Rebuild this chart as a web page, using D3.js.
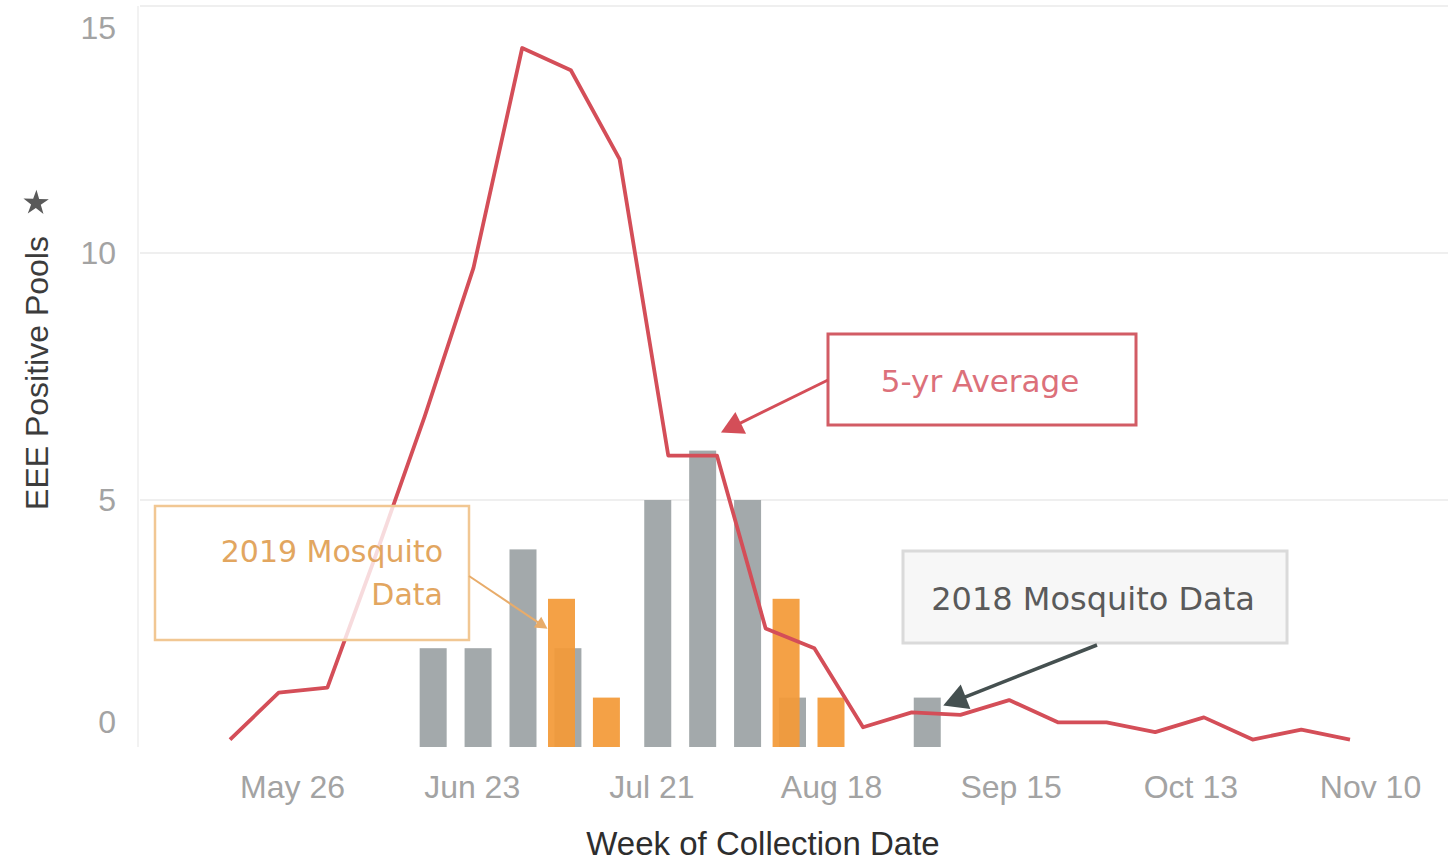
<!DOCTYPE html>
<html>
<head>
<meta charset="utf-8">
<script src="https://cdn.jsdelivr.net/npm/d3@7"></script>
<style>
  body { margin: 0; background: #fff; }
  text { font-family: "Liberation Sans", Arial, sans-serif; }
  .note { font-family: "DejaVu Sans", "Liberation Sans", sans-serif; }
</style>
</head>
<body>
<svg id="chart"></svg>
<script>
// 2018 data (Sunday week starts, 2018 calendar) – shown on the 2019 axis
var weeks2018 = ['2018-06-17', '2018-06-24', '2018-07-01', '2018-07-08', '2018-07-22',
  '2018-07-29', '2018-08-05', '2018-08-12', '2018-09-02'];
var pools2018 = [2, 2, 4, 2, 5, 6, 5, 1, 1];

// 2019 data
var weeks2019 = ['2019-07-07', '2019-07-14', '2019-08-11', '2019-08-18'];
var pools2019 = [3, 1, 3, 1];

// 5-yr average by week number
var avgWeekNums = d3.range(20, 44);
var avgPools = [0.15, 1.1, 1.2, 3.9, 6.7, 9.7, 14.15, 13.7, 11.9, 5.9, 5.9, 2.4,
  2.0, 0.4, 0.7, 0.65, 0.95, 0.5, 0.5, 0.3, 0.6, 0.15, 0.35, 0.15];

var xTickDates = ['2019-05-26', '2019-06-23', '2019-07-21', '2019-08-18',
  '2019-09-15', '2019-10-13', '2019-11-10'];
var yTicks = [0, 5, 10, 15];

var parse = d3.timeParse('%Y-%m-%d');

var W = 1448, H = 865;
var svg = d3.select('#chart').attr('width', W).attr('height', H);

var plot = { left: 138, right: 1448, top: 6, bottom: 747 };

var x = d3.scaleTime()
  .domain([parse('2019-05-26'), parse('2019-11-10')])
  .range([292, 1370]);
var xWeek = d3.scaleLinear()
  .domain([20, 43])
  .range([230, 1350]);
var y = d3.scaleLinear().domain([0, 15]).range([plot.bottom, plot.top]);

// grid
svg.append('g').selectAll('line')
  .data(yTicks.filter(function(d) { return d > 0; }))
  .enter().append('line')
  .attr('x1', plot.left + 2).attr('x2', plot.right)
  .attr('y1', function(d) { return y(d); })
  .attr('y2', function(d) { return y(d); })
  .attr('stroke', '#efefef').attr('stroke-width', 2);

svg.append('line')
  .attr('x1', plot.left).attr('x2', plot.left)
  .attr('y1', plot.top).attr('y2', plot.bottom)
  .attr('stroke', '#f2f2f2').attr('stroke-width', 2);

// y axis
var yAxis = svg.append('g')
  .attr('transform', 'translate(' + (plot.left - 2) + ',0)')
  .call(d3.axisLeft(y).tickValues(yTicks).tickSize(0).tickPadding(20));
yAxis.select('.domain').remove();
yAxis.selectAll('text')
  .attr('font-size', 32).attr('fill', '#a3a3a3')
  .style('font-family', '"Liberation Sans", Arial, sans-serif')
  .attr('dy', function(d) { return d === 15 ? '1.0em' : (d === 0 ? '-0.45em' : '0.32em'); });

// x axis
var xAxis = svg.append('g')
  .attr('transform', 'translate(0,' + plot.bottom + ')')
  .call(d3.axisBottom(x).tickValues(xTickDates.map(parse)).tickSize(0).tickPadding(28)
    .tickFormat(d3.timeFormat('%b %-d')));
xAxis.select('.domain').remove();
xAxis.selectAll('text')
  .attr('font-size', 32).attr('fill', '#a3a3a3')
  .style('font-family', '"Liberation Sans", Arial, sans-serif');

// axis titles
svg.append('text')
  .attr('x', 763).attr('y', 855)
  .attr('text-anchor', 'middle')
  .attr('font-size', 33).attr('fill', '#2e2e2e')
  .text('Week of Collection Date');

svg.append('text')
  .attr('transform', 'translate(48,373) rotate(-90)')
  .attr('text-anchor', 'middle')
  .attr('font-size', 32).attr('fill', '#3c3c3c')
  .text('EEE Positive Pools');

svg.append('path')
  .attr('d', d3.symbol().type(d3.symbolStar).size(200)())
  .attr('transform', 'translate(36,203) rotate(-70)')
  .attr('fill', '#5a5a5a');

// bars
var barW = 27;
var data2018 = weeks2018.map(function(w, i) {
  return { date: d3.timeYear.offset(parse(w), 1), v: pools2018[i] };
});
var data2019 = weeks2019.map(function(w, i) {
  return { date: parse(w), v: pools2019[i] };
});

svg.append('g').selectAll('rect')
  .data(data2018).enter().append('rect')
  .attr('x', function(d) { return x(d.date) - barW / 2; })
  .attr('y', function(d) { return y(d.v); })
  .attr('width', barW)
  .attr('height', function(d) { return y(0) - y(d.v); })
  .attr('fill', '#a3a9ab');

svg.append('g').selectAll('rect')
  .data(data2019).enter().append('rect')
  .attr('x', function(d) { return x(d.date) - barW / 2; })
  .attr('y', function(d) { return y(d.v); })
  .attr('width', barW)
  .attr('height', function(d) { return y(0) - y(d.v); })
  .attr('fill', '#f39a38')
  .attr('fill-opacity', 0.93);

// 5-yr average line
var line = d3.line()
  .x(function(d, i) { return xWeek(avgWeekNums[i]); })
  .y(function(d) { return y(d); });

svg.append('path')
  .datum(avgPools)
  .attr('d', line)
  .attr('fill', 'none')
  .attr('stroke', '#d44e58')
  .attr('stroke-width', 3.8)
  .attr('stroke-linejoin', 'round');

// annotations
function arrow(x1, y1, x2, y2, color, w, head) {
  var a = Math.atan2(y2 - y1, x2 - x1);
  svg.append('line')
    .attr('x1', x1).attr('y1', y1)
    .attr('x2', x2 - Math.cos(a) * head * 0.8).attr('y2', y2 - Math.sin(a) * head * 0.8)
    .attr('stroke', color).attr('stroke-width', w);
  var p = [[x2, y2],
    [x2 - head * Math.cos(a) + head * 0.55 * Math.sin(a), y2 - head * Math.sin(a) - head * 0.55 * Math.cos(a)],
    [x2 - head * Math.cos(a) - head * 0.55 * Math.sin(a), y2 - head * Math.sin(a) + head * 0.55 * Math.cos(a)]];
  svg.append('path').attr('d', 'M' + p.join('L') + 'Z').attr('fill', color);
}

// 5-yr Average
svg.append('rect')
  .attr('x', 828).attr('y', 334).attr('width', 308).attr('height', 91)
  .attr('fill', 'rgba(255,255,255,0.85)')
  .attr('stroke', '#d25c65').attr('stroke-width', 3);
svg.append('text').attr('class', 'note')
  .attr('x', 980).attr('y', 392).attr('text-anchor', 'middle')
  .attr('font-size', 31).attr('fill', '#dc707a')
  .text('5-yr Average');
arrow(828, 380, xWeek(avgWeekNums[10]) + 4, y(avgPools[10]) - 23, '#d44e58', 3, 22);

// 2019 Mosquito Data
svg.append('rect')
  .attr('x', 155).attr('y', 506).attr('width', 314).attr('height', 134)
  .attr('fill', 'rgba(255,255,255,0.8)')
  .attr('stroke', '#f1c793').attr('stroke-width', 2.5);
svg.append('text').attr('class', 'note')
  .attr('x', 443).attr('y', 562).attr('text-anchor', 'end')
  .attr('font-size', 30).attr('fill', '#e2a660')
  .text('2019 Mosquito');
svg.append('text').attr('class', 'note')
  .attr('x', 443).attr('y', 605).attr('text-anchor', 'end')
  .attr('font-size', 30).attr('fill', '#e2a660')
  .text('Data');
arrow(469, 576, x(data2019[0].date) - 14, y(data2019[0].v) + 30, '#e8ac6a', 2, 12);

// 2018 Mosquito Data
svg.append('rect')
  .attr('x', 903).attr('y', 551).attr('width', 384).attr('height', 92)
  .attr('fill', 'rgba(246,246,246,0.85)')
  .attr('stroke', '#dadada').attr('stroke-width', 3);
svg.append('text').attr('class', 'note')
  .attr('x', 1093).attr('y', 610).attr('text-anchor', 'middle')
  .attr('font-size', 32).attr('fill', '#5a5a5a')
  .text('2018 Mosquito Data');
arrow(1097, 645, x(data2018[8].date) + 16, y(data2018[8].v) + 8, '#455050', 3.5, 24);
</script>
</body>
</html>
